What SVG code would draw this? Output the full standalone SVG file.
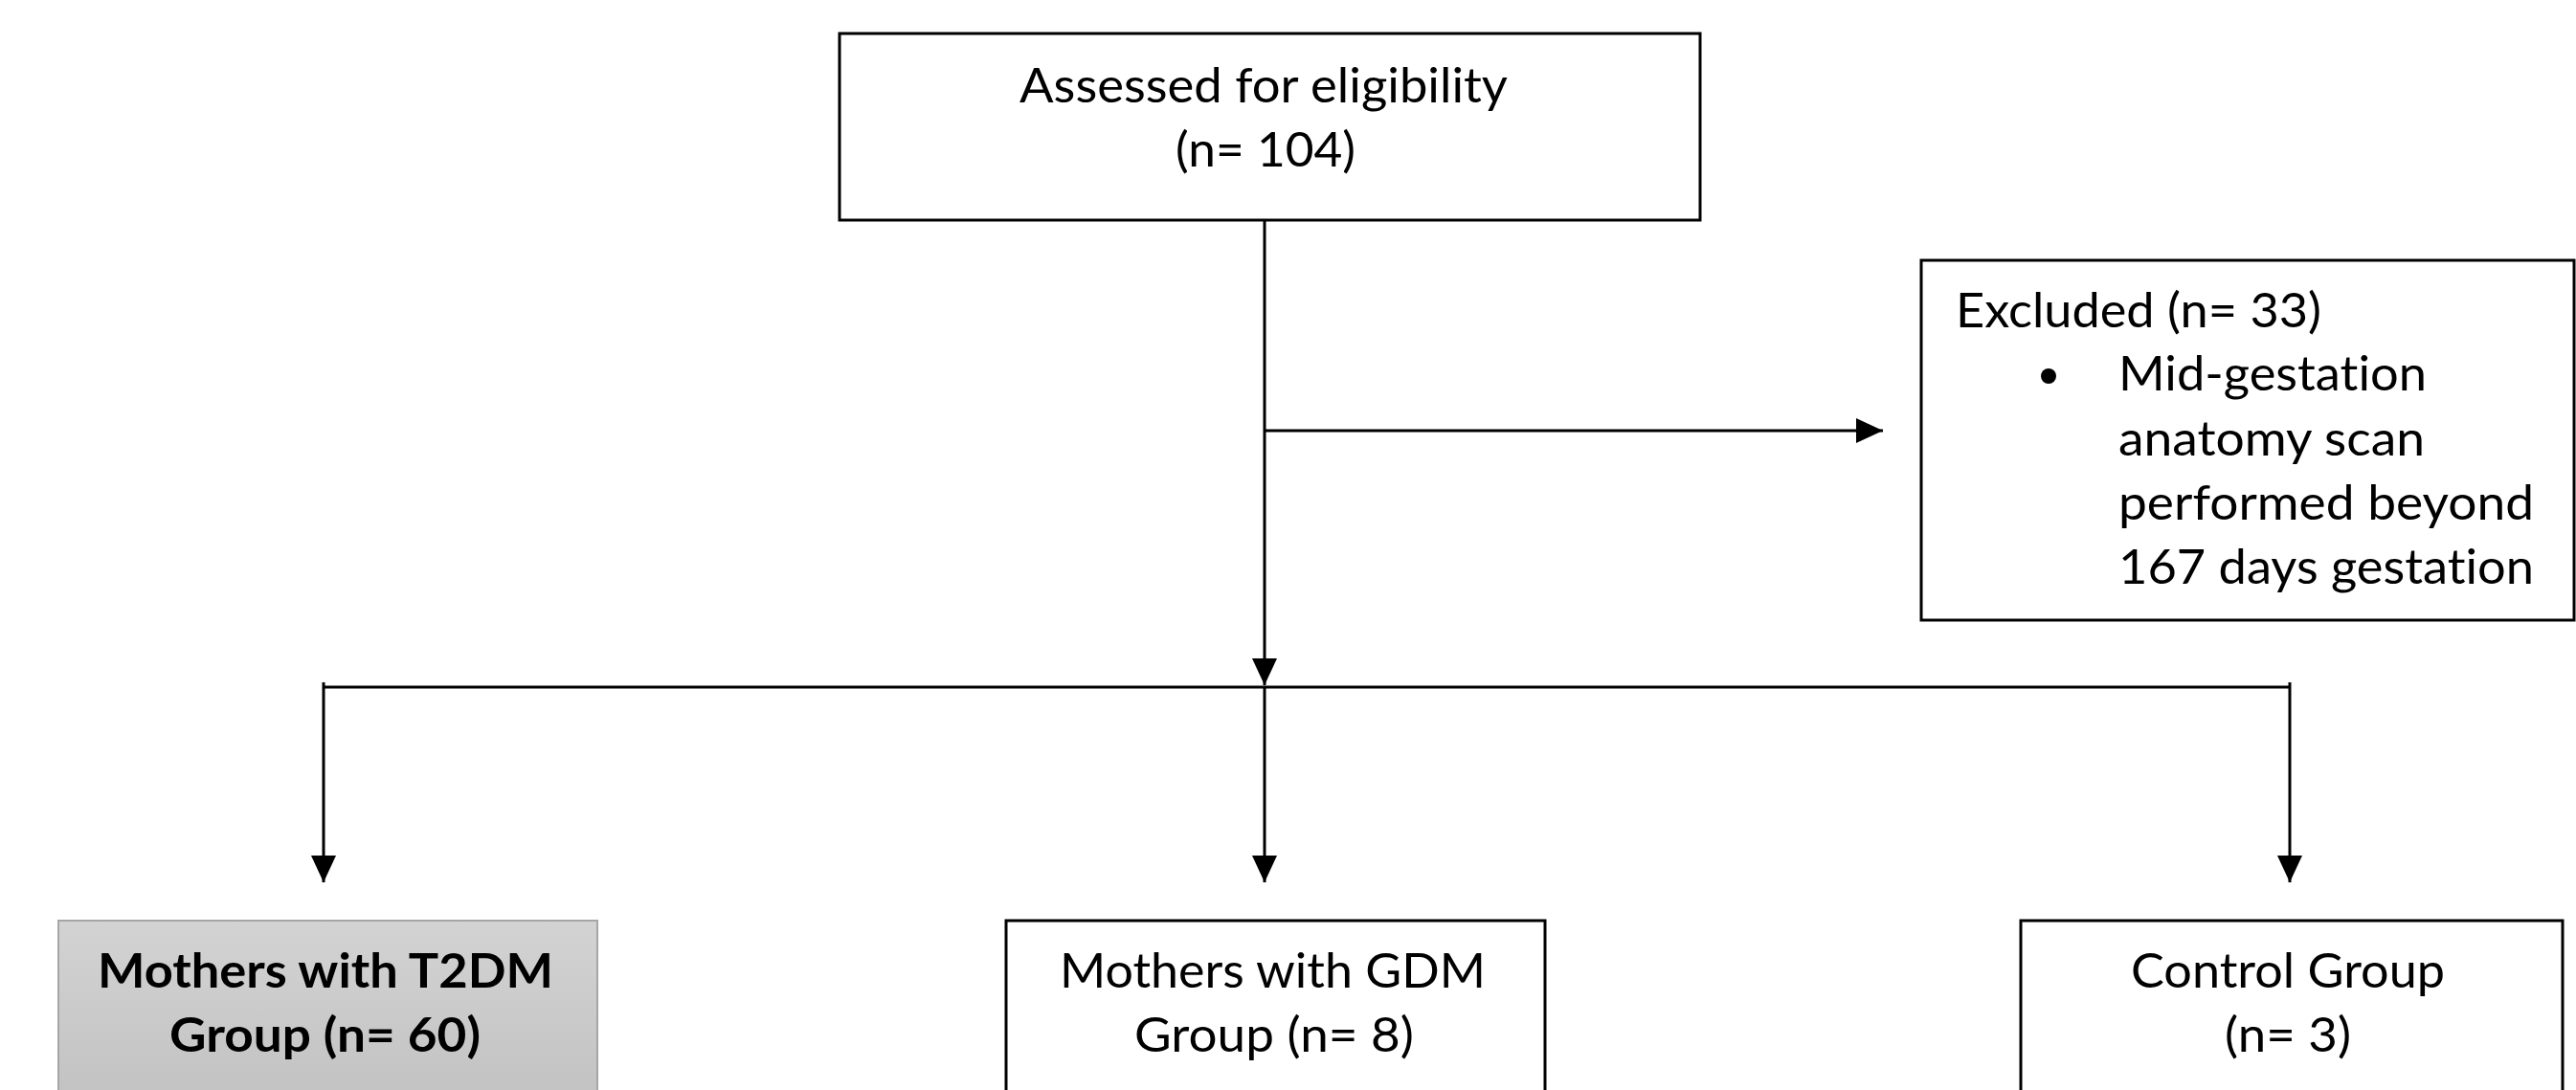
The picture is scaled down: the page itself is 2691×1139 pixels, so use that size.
<svg xmlns="http://www.w3.org/2000/svg" width="2691" height="1139" viewBox="0 0 2691 1139">
  <defs>
    <marker id="arrow" markerUnits="userSpaceOnUse" markerWidth="28" markerHeight="26" refX="28" refY="13" orient="auto">
      <path d="M0,0 L28,13 L0,26 z" fill="#000"/>
    </marker>
    <linearGradient id="grayFill" x1="0" y1="0" x2="0" y2="1">
      <stop offset="0" stop-color="#d3d3d3"/>
      <stop offset="1" stop-color="#c2c2c2"/>
    </linearGradient>
    <style>
      .box { fill: #fff; stroke: #000; stroke-width: 3; }
      .boxGray { fill: url(#grayFill); stroke: #a6a6a6; stroke-width: 2; }
      .txt { font-family: Lato, "Open Sans", "Liberation Sans", sans-serif; font-size: 50px; fill: #000; font-variant-ligatures: none; font-feature-settings: "liga" 0, "clig" 0; }
      .bold { font-weight: bold; }
      .conn { fill: none; stroke: #000; stroke-width: 3; }
    </style>
  </defs>
  <rect width="2691" height="1139" fill="#fff"/>

  <g id="connectors">
    <path class="conn" d="M1321,230 V716" marker-end="url(#arrow)"/>
    <path class="conn" d="M1321,450 H1967" marker-end="url(#arrow)"/>
    <path class="conn" d="M338,718 H2392"/>
    <path class="conn" d="M338,713 V922" marker-end="url(#arrow)"/>
    <path class="conn" d="M1321,718 V922" marker-end="url(#arrow)"/>
    <path class="conn" d="M2392,713 V922" marker-end="url(#arrow)"/>
  </g>

  <g id="assessed">
    <rect class="box" x="877" y="35" width="899" height="195"/>
    <text class="txt" x="1065" y="107" textLength="510" lengthAdjust="spacingAndGlyphs">Assessed for eligibility</text>
    <text class="txt" x="1228" y="174" textLength="188" lengthAdjust="spacingAndGlyphs">(n= 104)</text>
  </g>

  <g id="excluded">
    <rect class="box" x="2007" y="272" width="682" height="376"/>
    <text class="txt" x="2043" y="342" textLength="382" lengthAdjust="spacingAndGlyphs">Excluded (n= 33)</text>
    <circle cx="2140" cy="393" r="8" fill="#000"/>
    <text class="txt" x="2213" y="408" textLength="322" lengthAdjust="spacingAndGlyphs">Mid-gestation</text>
    <text class="txt" x="2213" y="476" textLength="320" lengthAdjust="spacingAndGlyphs">anatomy scan</text>
    <text class="txt" x="2213" y="543" textLength="434" lengthAdjust="spacingAndGlyphs">performed beyond</text>
    <text class="txt" x="2213" y="610" textLength="434" lengthAdjust="spacingAndGlyphs">167 days gestation</text>
  </g>

  <g id="t2dm">
    <rect class="boxGray" x="61" y="962" width="563" height="190"/>
    <text class="txt bold" x="102" y="1032" textLength="476" lengthAdjust="spacingAndGlyphs">Mothers with T2DM</text>
    <text class="txt bold" x="177" y="1099" textLength="325" lengthAdjust="spacingAndGlyphs">Group (n= 60)</text>
  </g>

  <g id="gdm">
    <rect class="box" x="1051" y="962" width="563" height="190"/>
    <text class="txt" x="1107" y="1032" textLength="445" lengthAdjust="spacingAndGlyphs">Mothers with GDM</text>
    <text class="txt" x="1185" y="1099" textLength="292" lengthAdjust="spacingAndGlyphs">Group (n= 8)</text>
  </g>

  <g id="control">
    <rect class="box" x="2111" y="962" width="566" height="190"/>
    <text class="txt" x="2226" y="1032" textLength="328" lengthAdjust="spacingAndGlyphs">Control Group</text>
    <text class="txt" x="2324" y="1099" textLength="132" lengthAdjust="spacingAndGlyphs">(n= 3)</text>
  </g>
</svg>
